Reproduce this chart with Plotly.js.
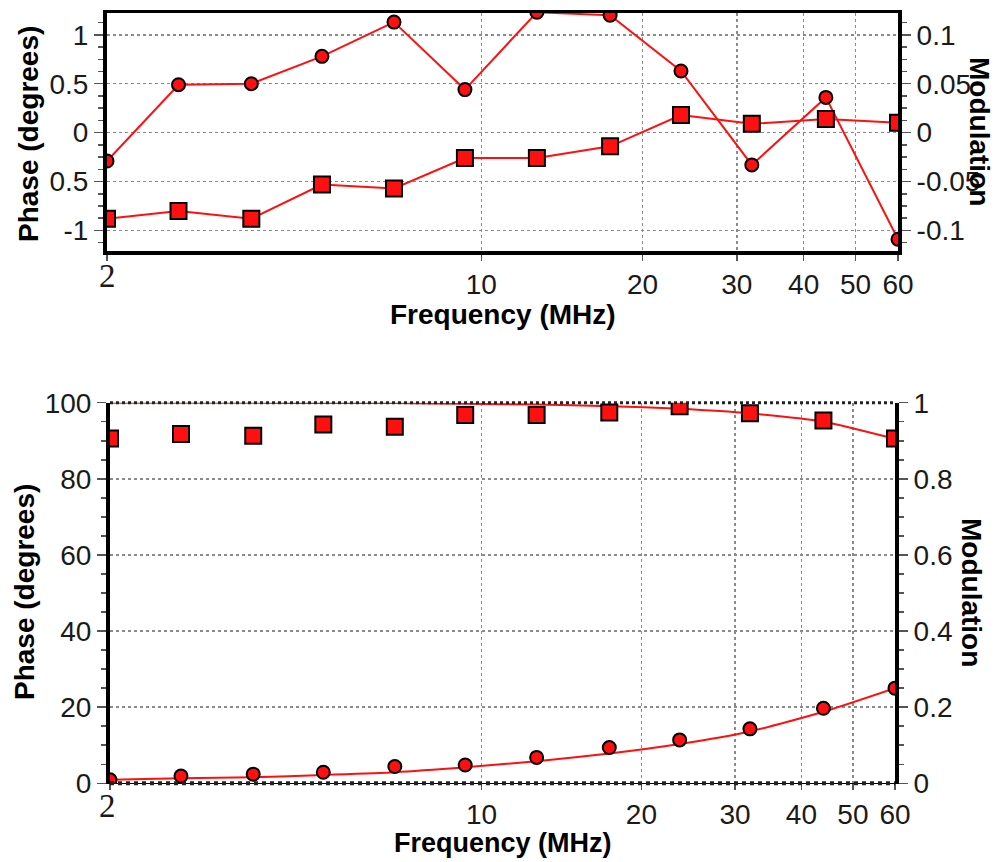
<!DOCTYPE html>
<html>
<head>
<meta charset="utf-8">
<script src="https://cdn.plot.ly/plotly-3.0.1.min.js"></script>
<style>html,body{margin:0;padding:0;background:#fff;}#chart{width:997px;height:862px;}</style>
</head>
<body>
<div id="chart"></div>
<script>
// Frequencies (MHz), shared by both panels
const freq = [2, 2.72, 3.72, 5.04, 6.87, 9.32, 12.7, 17.4, 23.6, 32, 44, 60];

// Top panel: differences
const topPhase = [-0.29, 0.49, 0.50, 0.78, 1.13, 0.44, 1.23, 1.20, 0.63, -0.33, 0.36, -1.09];
const topMod = [-0.088, -0.080, -0.088, -0.053, -0.057, -0.026, -0.026, -0.014, 0.018, 0.009, 0.014, 0.010];

// Bottom panel: measured values and fitted curves
const botPhase = [0.9, 1.9, 2.4, 2.9, 4.4, 4.8, 6.8, 9.4, 11.4, 14.3, 19.7, 25.0];
const botMod = [0.906, 0.918, 0.913, 0.943, 0.937, 0.968, 0.968, 0.974, 0.991, 0.972, 0.953, 0.906];
const phaseFit = [0.9, 1.3, 1.6, 2.2, 2.9, 4.2, 5.8, 7.8, 10.3, 13.6, 18.8, 25.0];
const modFit = [1.0, 1.0, 1.0, 0.999, 0.999, 0.997, 0.995, 0.991, 0.984, 0.972, 0.950, 0.905];

// Tick labels (first x label "2" is drawn in a serif face, as in the original)
const xTickVals = [2, 10, 20, 30, 40, 50, 60];
const xTickText = ['', '10', '20', '30', '40', '50', '60'];
const xFirstLabel = '2';
const topLeftTicks = [-1, -0.5, 0, 0.5, 1];
const topLeftText = ['-1', '0.5', '0', '0.5', '1'];
const topRightTicks = [-0.1, -0.05, 0, 0.05, 0.1];
const topRightText = ['-0.1', '-0.05', '0', '0.05', '0.1'];
const botLeftTicks = [0, 20, 40, 60, 80, 100];
const botRightTicks = [0, 0.2, 0.4, 0.6, 0.8, 1];
const botRightText = ['0', '0.2', '0.4', '0.6', '0.8', '1'];

const RED = '#ff1010';
const FONT = 'Liberation Sans, Arial, sans-serif';
const SERIF = 'Liberation Serif, DejaVu Serif, Times New Roman, serif';
const circle = {symbol: 'circle', size: 13, color: RED, line: {color: '#000', width: 2}};
const square = {symbol: 'square', size: 16, color: RED, line: {color: '#000', width: 2}};

const traces = [
  {x: freq, y: topPhase, xaxis: 'x', yaxis: 'y', mode: 'lines+markers', marker: circle, line: {color: RED, width: 2}},
  {x: freq, y: topMod, xaxis: 'x', yaxis: 'y2', mode: 'lines+markers', marker: square, line: {color: RED, width: 2}},
  {x: freq, y: phaseFit, xaxis: 'x2', yaxis: 'y3', mode: 'lines', line: {color: RED, width: 2, shape: 'spline', smoothing: 0.6}},
  {x: freq, y: modFit, xaxis: 'x2', yaxis: 'y4', mode: 'lines', line: {color: RED, width: 2, shape: 'spline', smoothing: 0.6}},
  {x: freq, y: botPhase, xaxis: 'x2', yaxis: 'y3', mode: 'markers', marker: circle},
  {x: freq, y: botMod, xaxis: 'x2', yaxis: 'y4', mode: 'markers', marker: square}
];

const grid = {showgrid: true, gridcolor: '#8a8a8a', gridwidth: 1.5, griddash: 'dot'};
const tickFont = {family: FONT, size: 28, color: '#1a1a1a'};

function xAxis(domain, anchor, mirror) {
  return Object.assign({
    type: 'log', range: [Math.log10(2), Math.log10(60)], domain: domain, anchor: anchor,
    tickmode: 'array', tickvals: xTickVals, ticktext: xTickText,
    ticks: 'outside', ticklen: 6, tickwidth: 1.5, tickcolor: '#555',
    showline: true, linecolor: '#000', linewidth: mirror ? 3.5 : 0, mirror: mirror,
    zeroline: false, tickfont: tickFont, automargin: false, fixedrange: true
  }, grid);
}
function yAxis(opts) {
  return Object.assign({
    ticks: 'outside', ticklen: 9, tickwidth: 1.5, tickcolor: '#555',
    showline: true, linecolor: '#000', linewidth: 4,
    zeroline: false, tickfont: tickFont, automargin: false, fixedrange: true,
    tickmode: 'array'
  }, opts);
}

const titleFont = {family: FONT, size: 28, color: '#000'};

const layout = {
  width: 997, height: 862,
  margin: {l: 0, r: 0, t: 0, b: 0},
  paper_bgcolor: '#fff', plot_bgcolor: '#fff',
  showlegend: false,
  font: {family: FONT, color: '#000'},
  xaxis: xAxis([107/997, 898/997], 'y', true),
  yaxis: yAxis(Object.assign({domain: [1 - 251/862, 1 - 13/862], anchor: 'x', range: [-1.21, 1.223],
    tickvals: topLeftTicks, ticktext: topLeftText,
    minor: {dtick: 0.125, tick0: 0, ticks: 'outside', ticklen: 5, tickcolor: '#555', showgrid: false}}, grid)),
  yaxis2: yAxis({overlaying: 'y', side: 'right', anchor: 'x', range: [-0.121, 0.1223],
    tickvals: topRightTicks, ticktext: topRightText, showgrid: false,
    minor: {dtick: 0.0125, tick0: 0, ticks: 'outside', ticklen: 5, tickcolor: '#555', showgrid: false}}),
  xaxis2: xAxis([110/997, 895/997], 'y3', false),
  yaxis3: yAxis(Object.assign({domain: [1 - 783.3/862, 1 - 402.7/862], anchor: 'x2', range: [0, 100],
    tickvals: botLeftTicks,
    minor: {dtick: 5, tick0: 0, ticks: 'outside', ticklen: 5, tickcolor: '#555', showgrid: false}}, grid)),
  yaxis4: yAxis({overlaying: 'y3', side: 'right', anchor: 'x2', range: [0, 1],
    tickvals: botRightTicks, ticktext: botRightText, showgrid: false,
    minor: {dtick: 0.05, tick0: 0, ticks: 'outside', ticklen: 5, tickcolor: '#555', showgrid: false}}),
  shapes: [
    {type: 'line', xref: 'x2 domain', yref: 'y3 domain', x0: 0, x1: 1, y0: 0, y1: 0, line: {color: '#222', width: 4, dash: 'dot'}, layer: 'above'},
    {type: 'line', xref: 'x2 domain', yref: 'y3 domain', x0: 0, x1: 1, y0: 1, y1: 1, line: {color: '#222', width: 3, dash: 'dot'}, layer: 'above'}
  ],
  annotations: [
    {text: '<b>Phase (degrees)</b>', xref: 'paper', yref: 'paper', x: 29/997, y: 1 - 134/862, textangle: -90, showarrow: false, xanchor: 'center', yanchor: 'middle', font: titleFont},
    {text: '<b>Frequency (MHz)</b>', xref: 'paper', yref: 'paper', x: 503/997, y: 1 - 314/862, showarrow: false, xanchor: 'center', yanchor: 'middle', font: titleFont},
    {text: '<b>Modulation</b>', xref: 'paper', yref: 'paper', x: 980/997, y: 1 - 131/862, textangle: 90, showarrow: false, xanchor: 'center', yanchor: 'middle', font: titleFont},
    {text: '<b>Phase (degrees)</b>', xref: 'paper', yref: 'paper', x: 24/997, y: 1 - 592/862, textangle: -90, showarrow: false, xanchor: 'center', yanchor: 'middle', font: titleFont},
    {text: '<b>Frequency (MHz)</b>', xref: 'paper', yref: 'paper', x: 503/997, y: 1 - 843/862, showarrow: false, xanchor: 'center', yanchor: 'middle', font: {family: FONT, size: 27, color: '#000'}},
    {text: '<b>Modulation</b>', xref: 'paper', yref: 'paper', x: 972/997, y: 1 - 592/862, textangle: 90, showarrow: false, xanchor: 'center', yanchor: 'middle', font: titleFont},
    {text: xFirstLabel, xref: 'x', yref: 'paper', x: Math.log10(xTickVals[0]), y: 1 - 276/862, showarrow: false, xanchor: 'center', yanchor: 'middle', font: {family: SERIF, size: 33, color: '#1a1a1a'}},
    {text: xFirstLabel, xref: 'x2', yref: 'paper', x: Math.log10(xTickVals[0]) , y: 1 - 806/862, xshift: -3, showarrow: false, xanchor: 'center', yanchor: 'middle', font: {family: SERIF, size: 33, color: '#1a1a1a'}}
  ]
};

Plotly.newPlot('chart', traces, layout, {staticPlot: true, displayModeBar: false});
</script>
</body>
</html>
